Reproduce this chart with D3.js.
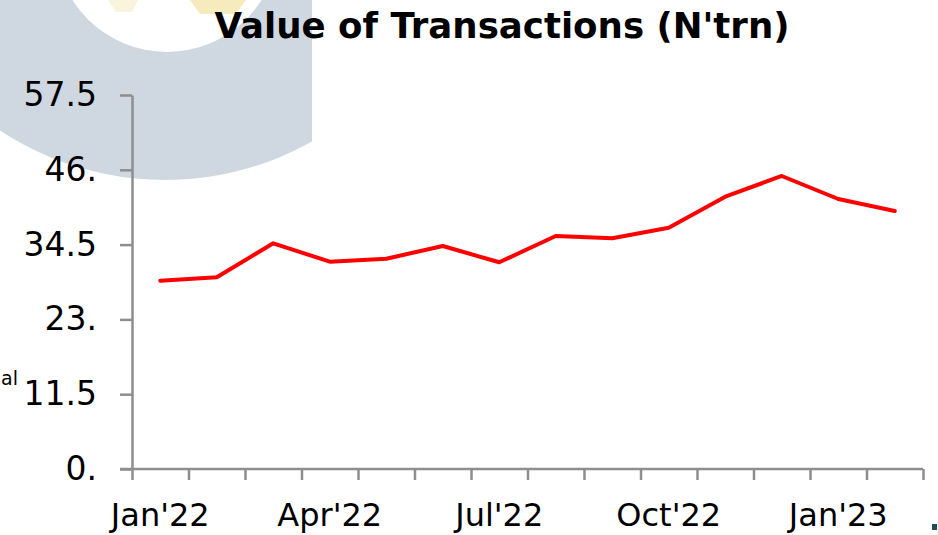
<!DOCTYPE html>
<html>
<head>
<meta charset="utf-8">
<script src="https://cdn.jsdelivr.net/npm/d3@7"></script>
<style>
  body { margin: 0; background: #fff; }
  svg { display: block; font-family: "Century Gothic", "DejaVu Sans", sans-serif; }
</style>
</head>
<body>
<div id="chart"></div>
<script>
// chart data
var months = ["Jan'22", "Feb'22", "Mar'22", "Apr'22", "May'22", "Jun'22", "Jul'22",
  "Aug'22", "Sep'22", "Oct'22", "Nov'22", "Dec'22", "Jan'23", "Feb'23"];
var values = [28.95, 29.47, 34.70, 31.87, 32.33, 34.28, 31.78,
  35.82, 35.47, 37.10, 41.86, 45.05, 41.51, 39.66];
var yTicks = [0, 11.5, 23, 34.5, 46, 57.5];
var yTickLabels = ["0.", "11.5", "23.", "34.5", "46.", "57.5"];
var xLabels = ["Jan'22", "Apr'22", "Jul'22", "Oct'22", "Jan'23"];

var svgWidth = 938;
var svgHeight = 535;
var axisColor = "#8e8e8e";

var svg = d3.select("#chart")
  .append("svg")
  .attr("width", svgWidth)
  .attr("height", svgHeight);

// faint logo watermark behind the chart (top left)
var defs = svg.append("defs");
defs.append("clipPath").attr("id", "wmClip")
  .append("rect").attr("x", 0).attr("y", 0).attr("width", 312).attr("height", 200);

var wm = svg.append("g").attr("clip-path", "url(#wmClip)");
wm.append("circle")
  .attr("cx", 165).attr("cy", -120).attr("r", 300)
  .attr("fill", "#cfd7e1");
wm.append("circle")
  .attr("cx", 167).attr("cy", -60).attr("r", 112)
  .attr("fill", "#fff");
wm.append("path")
  .attr("d", "M190,0 L246,0 L236,14 L200,14 Z")
  .attr("fill", "#f6ebbd");
wm.append("path")
  .attr("d", "M108,0 L138,0 L132,12 L116,12 Z")
  .attr("fill", "#fbf4dc");

// scales
var plot = { left: 132, right: 923, top: 95, bottom: 469 };

var x = d3.scaleBand()
  .domain(months)
  .range([plot.left, plot.right]);

var xEdge = d3.scaleLinear()
  .domain([0, months.length])
  .range([plot.left, plot.right]);

var y = d3.scaleLinear()
  .domain([0, 57.5])
  .range([plot.bottom, plot.top]);

// y axis
var leftAxis = d3.axisLeft(y)
  .tickValues(yTicks)
  .tickFormat((d, i) => yTickLabels[i])
  .tickSize(12)
  .tickSizeOuter(0)
  .tickPadding(23);

var yAxisG = svg.append("g")
  .attr("transform", `translate(${plot.left},0)`)
  .call(leftAxis);

yAxisG.select(".domain").attr("stroke", axisColor).attr("stroke-width", 2.5);
yAxisG.selectAll(".tick line").attr("stroke", axisColor).attr("stroke-width", 2.5);
yAxisG.selectAll(".tick text")
  .attr("font-size", "33px")
  .attr("fill", "#000")
  .attr("font-family", "'Century Gothic', 'DejaVu Sans', sans-serif");

// x axis: tick marks sit between categories
var edgeAxis = d3.axisBottom(xEdge)
  .tickValues(d3.range(months.length + 1))
  .tickFormat("")
  .tickSize(11)
  .tickSizeOuter(0);

var xAxisG = svg.append("g")
  .attr("transform", `translate(0,${plot.bottom})`)
  .call(edgeAxis);

xAxisG.select(".domain").remove();
xAxisG.selectAll(".tick line").attr("stroke", axisColor).attr("stroke-width", 2.5);

svg.append("line")
  .attr("x1", 120).attr("x2", plot.right)
  .attr("y1", plot.bottom).attr("y2", plot.bottom)
  .attr("stroke", axisColor)
  .attr("stroke-width", 2.5);

// x labels every third month
var labelAxis = d3.axisBottom(x)
  .tickValues(xLabels)
  .tickSize(0)
  .tickSizeOuter(0);

var labelG = svg.append("g")
  .attr("transform", `translate(0,${plot.bottom})`)
  .call(labelAxis);

labelG.select(".domain").remove();
labelG.selectAll(".tick text")
  .attr("y", 57)
  .attr("dy", 0)
  .attr("font-size", "32px")
  .attr("fill", "#000")
  .attr("font-family", "'Century Gothic', 'DejaVu Sans', sans-serif");

// the line
var line = d3.line()
  .x((d, i) => x(months[i]) + x.bandwidth() / 2)
  .y(d => y(d));

svg.append("path")
  .datum(values)
  .attr("d", line)
  .attr("fill", "none")
  .attr("stroke", "#ff0000")
  .attr("stroke-width", 4)
  .attr("stroke-linejoin", "round")
  .attr("stroke-linecap", "round");

// title
svg.append("text")
  .attr("x", 502)
  .attr("y", 38)
  .attr("text-anchor", "middle")
  .attr("font-size", "35px")
  .attr("font-weight", "bold")
  .attr("textLength", 575)
  .attr("lengthAdjust", "spacingAndGlyphs")
  .text("Value of Transactions (N'trn)");

// text fragment at the left edge of the slide
svg.append("text")
  .attr("x", 1)
  .attr("y", 385)
  .attr("font-size", "19px")
  .text("al");

svg.append("rect")
  .attr("x", 932)
  .attr("y", 524)
  .attr("width", 5)
  .attr("height", 6)
  .attr("fill", "#1f4e5a");
</script>
</body>
</html>
